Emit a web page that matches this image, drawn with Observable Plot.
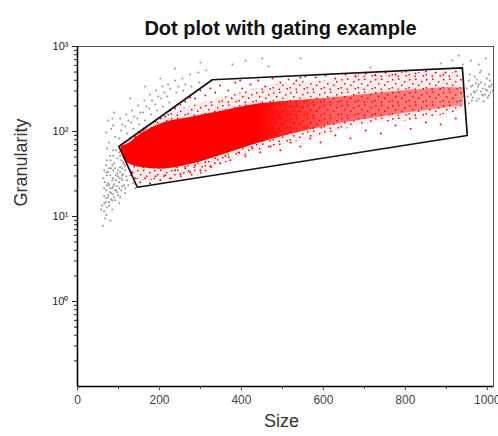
<!DOCTYPE html>
<html><head><meta charset="utf-8">
<script src="https://cdn.jsdelivr.net/npm/d3@7"></script>
<script src="https://cdn.jsdelivr.net/npm/@observablehq/plot@0.6"></script>
<style>body{margin:0;background:#fff;} #chart{width:498px;height:436px;}</style>
</head><body><div id="chart"></div>
<script>
const title = "Dot plot with gating example";
const xLabel = "Size";
const yLabel = "Granularity";
const xTicks = [0, 200, 400, 600, 800, 1000];
const xMinorTicks = [100, 300, 500, 700, 900];
const yTicks = [1, 10, 100, 1000];
const yTickLabels = ["10⁰", "10¹", "10²", "10³"];

// gate polygon (Size, Granularity)
const gateX = [101, 146, 951, 939, 329, 101];
const gateY = [66.7, 22.1, 89.7, 561, 406, 66.7];

// dense core of the gated (red) population: envelope read per Size
const coreX  = [107, 124, 153, 202, 275, 348, 422, 520, 617, 715, 813, 910, 942];
const coreLo = [59, 42, 38, 36, 41, 52, 68, 92, 118, 142, 167, 192, 202];
const coreHi = [67, 72, 92, 122, 146, 172, 204, 228, 248, 276, 305, 330, 325];
// sparser fringe of the gated population
const fringeLo = [57, 37.9, 26.7, 26.7, 28.1, 40, 55, 72.5, 95, 124, 135, 163, 177];
const fringeHi = [70, 81, 103, 146, 197, 244, 304, 377, 398, 481, 494, 494, 421];

// scattered gated events (red)
const redEvents = [
[116,60],[133,33.1],[141,28.1],[153,25.3],[165,28.1],[177,24.6],[190,29.7],[202,26.7],[214,30.5],[226,28.1],[238,35],[251,31.4],[263,36.9],[275,33.1],[287,40],[300,35],[312,43.4],[324,39],[336,48.3],[348,42.3],[361,52],[373,46],[393,57],[410,51],[427,63],[446,57],[471,66.7],[495,60],[520,74],[544,66.7],[568,83],[593,74],[629,90],[666,83],[703,103],[740,95],[776,118],[813,108],[850,128],[886,121],[923,142],
[141,87],[153,97],[165,108],[177,121],[190,131],[202,142],[214,150],[226,177],[238,186],[251,208],[263,226],[275,251],[287,244],[300,304],[312,265],[324,320],[336,288],[348,348],[368,304],[385,377],[402,320],[422,357],[441,398],[458,338],[476,421],[495,377],[515,410],[534,398],[556,444],[581,432],[605,456],[629,421],[654,469],[679,444],[703,481],[727,456],[752,494],[776,469],[801,508],[825,481],[850,508],[874,494],[898,494],[923,508],[397,398],[544,432]
];

// ungated events (gray): low-left cluster
const grayLow = [
[63,7.8],[67,9.5],[65,11.5],[72,12.8],[70,14.7],[77,13.5],[75,16.8],[82,15.9],[80,19.3],[87,18.3],[85,21.5],[92,20.3],[89,23.9],[97,22.7],[94,26.7],[102,25.3],[99,29.7],[107,28.1],[104,33.1],[111,31.4],[109,36.9],[116,35],[114,41.1],[107,46],[116,39],[111,43.4],[85,26.7],[77,23.3],[70,20.3],[65,17.3],[60,13.5],[75,33.1],[82,36.9],[89,42.3],[97,48.3],[104,52],[102,57],[80,46],[87,52],[94,60],[72,30.5],[67,25.3],[99,17.8],[107,20.3],[114,23.3],[121,26.7],[92,15.5],[85,12.1],[70,10.4],[104,37.9],[129,30.5],[124,23.3],[116,18.8],[102,14.3],[80,9.0],[136,24.6],[141,21.5],[87,35],[97,32.2],[75,24.6],[65,14.3],[58,12.1],[109,26.7],[119,29.7],
[70,40],[77,36.9],[85,40],[92,36.9],[99,35],[80,30.5],[87,28.1],[94,30.5],[102,28.1],[109,30.5],[72,23.3],[80,21.5],[87,22.7],[94,20.3],[102,21.5],[109,22.7],[116,21.5],[75,17.8],[82,18.8],[89,16.8],[97,19.3],[104,16.8],[70,16.4],[77,14.7],[85,15.5],[65,21.5],[63,28.1],[70,33.1],[80,52],[87,60],[72,46],[65,35]
];
// gray arc above the gate
const grayArc = [
[75,135],[70,97],[77,74],[82,108],[72,63],[89,167],[87,118],[92,87],[85,142],[104,142],[107,103],[102,83],[109,121],[119,158],[116,115],[121,95],[124,135],[133,177],[131,128],[136,108],[138,150],[148,202],[146,142],[151,121],[153,167],[163,232],[160,167],[165,135],[168,197],[177,272],[175,186],[180,158],[182,232],[192,304],[190,208],[195,177],[197,258],[207,338],[204,244],[209,197],[212,288],[221,357],[219,258],[224,219],[226,320],[238,398],[241,288],[246,338],[256,421],[258,304],[263,357],[275,469],[278,338],[295,494],[297,377],[314,522],[129,244],[165,338],[202,421],[238,551],[300,649]
];
// gray cluster right of the gate
const grayRight = [
[950,320],[955,398],[960,272],[964,348],[969,444],[974,304],[979,244],[984,377],[989,320],[994,272],[999,421],[1004,338],[1008,288],[952,258],[962,232],[991,226],[1001,251],[1011,357],[957,469],[967,296],[977,338],[987,272],[996,312],[1006,398],[1013,304],[955,214],[974,409],[994,357],[984,522],[1004,469],[972,367],[982,494],
[960,338],[969,288],[979,357],[989,265],[999,304],[1008,338],[964,251],[984,296],[1004,265],[974,232]
];
// sparse gray events along the top
const grayTop = [
[378,614],[410,684],[451,723],[466,582],[544,723],[715,566],[886,631],[915,684],[930,784],[940,614],[960,684],[979,614],[996,723]
];

const gate = gateX.map((x, i) => ({x, y: gateY[i]}));
const core = coreX.map((x, i) => ({x, lo: coreLo[i], hi: coreHi[i]}));
const fringe = coreX.map((x, i) => ({x, lo: fringeLo[i], hi: fringeHi[i]}));
const gray = [...grayLow, ...grayArc, ...grayRight, ...grayTop];
const yMinorTicks = [-1, 0, 1, 2].flatMap(k => [2,3,4,5,6,7,8,9].map(m => +(m * 10 ** k).toPrecision(3)));

const font = "'Liberation Sans', Arial, sans-serif";

const plot = Plot.plot({
  width: 498, height: 436,
  marginLeft: 77, marginRight: 5, marginTop: 46, marginBottom: 50,
  x: {domain: [0, 1015], axis: null},
  y: {type: "log", domain: [0.1, 1000], axis: null},
  style: {fontFamily: font, background: "#fff"},
  marks: [
    Plot.areaY(fringe, {x: "x", y1: "lo", y2: "hi", fill: "url(#speckle)", curve: "monotone-x"}),
    Plot.areaY(core, {x: "x", y1: "lo", y2: "hi", fill: "url(#coreFade)", curve: "monotone-x"}),
    Plot.dot(gray, {x: d => d[0], y: d => d[1], r: 1, fill: "#8a8a8a", fillOpacity: 0.9, clip: true}),
    Plot.dot(redEvents, {x: d => d[0], y: d => d[1], r: 1, fill: "#ff0000"}),
    Plot.line(gate, {x: "x", y: "y", stroke: "#111", strokeWidth: 1.7}),
    Plot.frame({stroke: "#555", strokeWidth: 1}),
    Plot.ruleX([0], {stroke: "#000", strokeWidth: 1.6}),
    Plot.ruleY([0.1], {stroke: "#000", strokeWidth: 1.6}),
    Plot.axisY(yTicks, {anchor: "left", tickSize: 5, tickPadding: 4, fontSize: 11, color: "#222",
      tickFormat: d => yTickLabels[yTicks.indexOf(d)], label: null}),
    Plot.axisY(yMinorTicks, {anchor: "left", tickSize: 3, tickFormat: () => "", color: "#222", label: null}),
    Plot.axisX(xTicks, {anchor: "bottom", tickSize: 4, tickPadding: 5, fontSize: 12, color: "#444",
      tickFormat: d => String(d), label: null}),
    Plot.axisX(xMinorTicks, {anchor: "bottom", tickSize: 3, tickFormat: () => "", color: "#444", label: null}),
    Plot.text([title], {text: d => d, frameAnchor: "top", dx: -5, dy: -26, fontSize: 20, fontWeight: "bold", fill: "#111"}),
    Plot.text([xLabel], {text: d => d, frameAnchor: "bottom", dx: -4, dy: 40, fontSize: 18, fill: "#333"}),
    Plot.text([yLabel], {text: d => d, frameAnchor: "left", dx: -56, dy: -10, rotate: -90, fontSize: 18, fill: "#333"})
  ]
});

d3.select(plot).insert("defs", ":first-child").html(`
  <linearGradient id="coreFade" x1="0" x2="1" y1="0" y2="0">
    <stop offset="0" stop-color="#ff0000" stop-opacity="1"/>
    <stop offset="0.4" stop-color="#ff0000" stop-opacity="1"/>
    <stop offset="0.62" stop-color="#ff0000" stop-opacity="0.6"/>
    <stop offset="1" stop-color="#ff0000" stop-opacity="0.42"/>
  </linearGradient>
  <pattern id="speckle" width="17" height="13" patternUnits="userSpaceOnUse">
    <rect width="17" height="13" fill="#ff0000" fill-opacity="0.06"/>
    <rect x="1" y="1" width="1.5" height="1.5" fill="#ff0000"/>
    <rect x="7" y="0.5" width="1.5" height="1.5" fill="#ff0000"/>
    <rect x="13" y="3" width="1.5" height="1.5" fill="#ff0000"/>
    <rect x="4" y="5" width="1.5" height="1.5" fill="#ff0000"/>
    <rect x="10" y="6.5" width="1.5" height="1.5" fill="#ff0000"/>
    <rect x="0.5" y="9" width="1.5" height="1.5" fill="#ff0000"/>
    <rect x="6.5" y="10.5" width="1.5" height="1.5" fill="#ff0000"/>
    <rect x="14.5" y="10" width="1.5" height="1.5" fill="#ff0000"/>
  </pattern>`);

document.getElementById("chart").appendChild(plot);
</script>
</body></html>
